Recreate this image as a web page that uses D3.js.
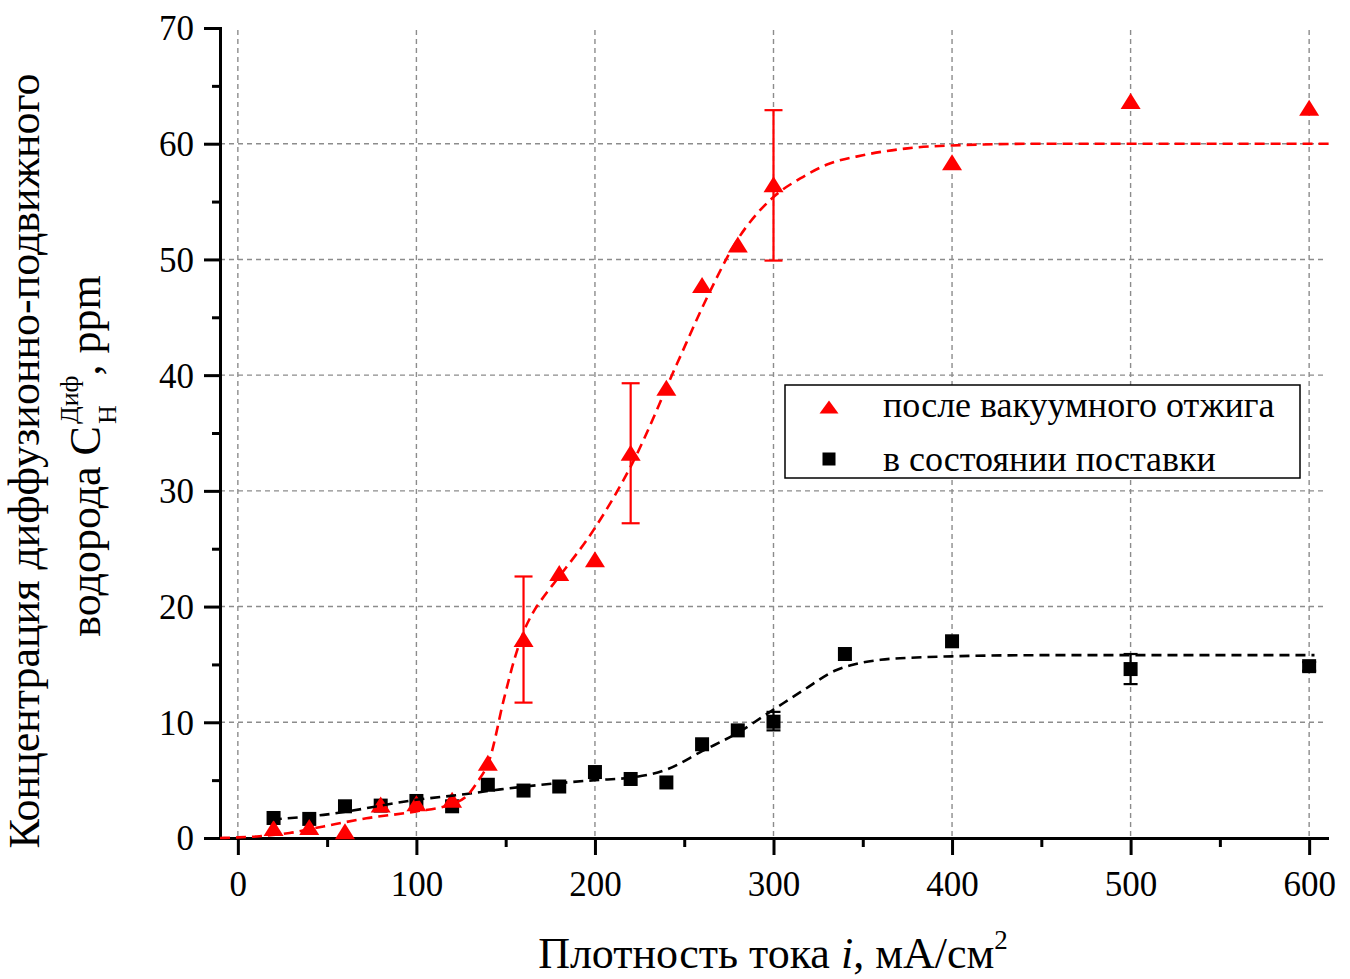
<!DOCTYPE html>
<html><head><meta charset="utf-8">
<script src="https://cdn.jsdelivr.net/npm/d3@7"></script>
<style>
body{margin:0;background:#fff}
svg{display:block}
text{font-family:"Liberation Serif","Times New Roman",serif;fill:#000}
</style>
</head><body>
<svg id="c" width="1350" height="979"></svg>
<script>
// ---- data ----
const annealedX = [20,40,60,80,100,120,140,160,180,200,220,240,260,280,300,400,500,600];
const annealedY = [0.86,0.95,0.58,2.9,3.0,3.3,6.5,17.2,22.9,24.1,33.3,38.9,47.8,51.3,56.5,58.4,63.7,63.1];
const deliveredX = [20,40,60,80,100,120,140,160,180,200,220,240,260,280,300,340,400,500,600];
const deliveredY = [1.73,1.65,2.74,2.8,3.2,2.74,4.6,4.1,4.45,5.7,5.1,4.8,8.1,9.3,10.05,15.9,17.0,14.6,14.85];
const annealedErrX = [160,220,300];
const annealedErrLow = [11.7,27.2,49.9];
const annealedErrHigh = [22.6,39.3,62.9];
const deliveredErrX = [300,500,600];
const deliveredErrLow = [9.3,13.3,14.45];
const deliveredErrHigh = [10.9,15.9,15.2];
const annealedFitX = [-10,0,12,29,48,72,100,119,128,134,141,149,155,160,165,172,179,200,221,246,264,279,300,315,330,350,375,400,450,611];
const annealedFitY = [0,0.05,0.15,0.43,1.0,1.7,2.3,2.9,3.6,4.8,6.8,12,15.5,17.8,19.4,21.0,22.4,26.8,32.4,41,47.1,51.5,55.4,57.0,58.2,59.0,59.6,59.85,60,60];
const deliveredFitX = [19,48,100,128,147,200,219,240,260,280,300,317,335,345,360,380,400,450,603];
const deliveredFitY = [1.6,2.0,3.3,3.8,4.2,5.0,5.2,5.9,7.5,9.1,11.1,12.8,14.5,15.0,15.4,15.6,15.7,15.8,15.8];
const xTicks = [0,100,200,300,400,500,600];
const xMinorTicks = [50,150,250,350,450,550];
const yTicks = [0,10,20,30,40,50,60,70];
const yMinorTicks = [5,15,25,35,45,55,65];
const yGrid = [10,20,30,40,50,60];
const legendLabels = ["после вакуумного отжига","в состоянии поставки"];
const RED = "#ff0000";

const svg = d3.select("#c");
const x = d3.scaleLinear().domain([-10,610]).range([220,1327]);
const y = d3.scaleLinear().domain([0,70]).range([838,28]);

// grid
const grid = svg.append("g").attr("stroke","#8c8c8c").attr("stroke-width",1.4).attr("stroke-dasharray","5,4");
grid.selectAll("line.v").data(xTicks).join("line").attr("class","v")
  .attr("x1",d=>x(d)).attr("x2",d=>x(d)).attr("y1",y(70)+2).attr("y2",y(0));
grid.selectAll("line.h").data(yGrid).join("line").attr("class","h")
  .attr("x1",x(-10)).attr("x2",x(610)).attr("y1",d=>y(d)).attr("y2",d=>y(d));

// axes
function styleAxis(g){
  g.select(".domain").attr("stroke","#000").attr("stroke-width",3).attr("stroke-linecap","square");
  g.selectAll(".tick line").attr("stroke","#000").attr("stroke-width",3);
}
const xAxis = svg.append("g").attr("transform",`translate(0,${y(0)})`)
  .call(d3.axisBottom(x).tickValues(xTicks).tickSize(17).tickSizeOuter(0).tickFormat(d3.format("d")));
styleAxis(xAxis);
xAxis.selectAll("text").attr("font-size",35).attr("font-family",'"Liberation Serif",serif').attr("fill","#000").attr("y",58).attr("dy",0);
const xMinor = svg.append("g").attr("transform",`translate(0,${y(0)})`)
  .call(d3.axisBottom(x).tickValues(xMinorTicks).tickSize(9).tickSizeOuter(0).tickFormat(""));
xMinor.select(".domain").remove();
xMinor.selectAll(".tick line").attr("stroke","#000").attr("stroke-width",3);

const yAxis = svg.append("g").attr("transform",`translate(${x(-10)},0)`)
  .call(d3.axisLeft(y).tickValues(yTicks).tickSize(16).tickSizeOuter(0).tickFormat(d3.format("d")));
styleAxis(yAxis);
yAxis.selectAll("text").attr("font-size",35).attr("font-family",'"Liberation Serif",serif').attr("fill","#000").attr("x",-26).attr("dy","0.34em");
const yMinor = svg.append("g").attr("transform",`translate(${x(-10)},0)`)
  .call(d3.axisLeft(y).tickValues(yMinorTicks).tickSize(8).tickSizeOuter(0).tickFormat(""));
yMinor.select(".domain").remove();
yMinor.selectAll(".tick line").attr("stroke","#000").attr("stroke-width",3);

// markers helpers
const triPath = (w,h)=>`M0,${-h/2}L${w/2},${h/2}L${-w/2},${h/2}Z`;
const sq = 14;

// error bars
function errBars(xs, lo, hi, color, cap){
  const g = svg.append("g").attr("stroke",color).attr("stroke-width",2.2);
  xs.forEach((xv,i)=>{
    g.append("line").attr("x1",x(xv)).attr("x2",x(xv)).attr("y1",y(lo[i])).attr("y2",y(hi[i]));
    g.append("line").attr("x1",x(xv)-cap/2).attr("x2",x(xv)+cap/2).attr("y1",y(lo[i])).attr("y2",y(lo[i]));
    g.append("line").attr("x1",x(xv)-cap/2).attr("x2",x(xv)+cap/2).attr("y1",y(hi[i])).attr("y2",y(hi[i]));
  });
}
errBars(deliveredErrX, deliveredErrLow, deliveredErrHigh, "#000", 14);
svg.append("g").selectAll("rect").data(deliveredX).join("rect")
  .attr("x",(d)=>x(d)-sq/2).attr("y",(d,i)=>y(deliveredY[i])-sq/2).attr("width",sq).attr("height",sq).attr("fill","#000");
errBars(annealedErrX, annealedErrLow, annealedErrHigh, RED, 18);
svg.append("g").selectAll("path").data(annealedX).join("path")
  .attr("transform",(d,i)=>`translate(${x(d)},${y(annealedY[i])})`).attr("d",triPath(20,16)).attr("fill",RED);

// fit curves
const line = d3.line().x(d=>x(d[0])).y(d=>y(d[1])).curve(d3.curveMonotoneX);
svg.append("path").datum(deliveredFitX.map((v,i)=>[v,deliveredFitY[i]])).attr("d",line)
  .attr("fill","none").attr("stroke","#000").attr("stroke-width",2.6).attr("stroke-dasharray","10,6");
svg.append("path").datum(annealedFitX.map((v,i)=>[v,annealedFitY[i]])).attr("d",line)
  .attr("fill","none").attr("stroke",RED).attr("stroke-width",2.6).attr("stroke-dasharray","10,6");

// legend
const lg = svg.append("g");
lg.append("rect").attr("x",785).attr("y",385).attr("width",515).attr("height",93).attr("fill","#fff").attr("stroke","#000").attr("stroke-width",1.5);
lg.append("path").attr("transform","translate(829,407)").attr("d",triPath(19,13)).attr("fill",RED);
lg.append("rect").attr("x",829-6.5).attr("y",459-6.5).attr("width",13).attr("height",13).attr("fill","#000");
lg.selectAll("text").data(legendLabels).join("text").attr("x",883).attr("y",(d,i)=>417+i*54)
  .attr("font-size",36).text(d=>d);

// x axis title
const xt = svg.append("text").attr("x",773).attr("y",968).attr("text-anchor","middle").attr("font-size",44);
xt.append("tspan").text("Плотность тока ");
xt.append("tspan").attr("font-style","italic").text("i");
xt.append("tspan").text(", мА/см");
xt.append("tspan").attr("font-size",27).attr("dy",-19).text("2");

// y axis title
svg.append("text").attr("transform","translate(39,461) rotate(-90)").attr("text-anchor","middle")
  .attr("font-size",44).text("Концентрация диффузионно-подвижного");
const l2 = svg.append("g");
const t1 = l2.append("text").attr("font-size",44).attr("x",0).attr("y",0).text("водорода С");
const w1 = t1.node().getComputedTextLength();
const sub = l2.append("text").attr("font-size",26).attr("x",w1+2).attr("y",16).text("Н");
const sup = l2.append("text").attr("font-size",26).attr("x",w1+2).attr("y",-22).text("Диф");
const w2 = Math.max(sub.node().getComputedTextLength(), sup.node().getComputedTextLength());
const t3 = l2.append("text").attr("font-size",44).attr("x",w1+2+w2).attr("y",0).text(", ppm");
const total = w1+2+w2+t3.node().getComputedTextLength();
l2.attr("transform",`translate(100,${456+total/2}) rotate(-90)`);
</script>
</body></html>
